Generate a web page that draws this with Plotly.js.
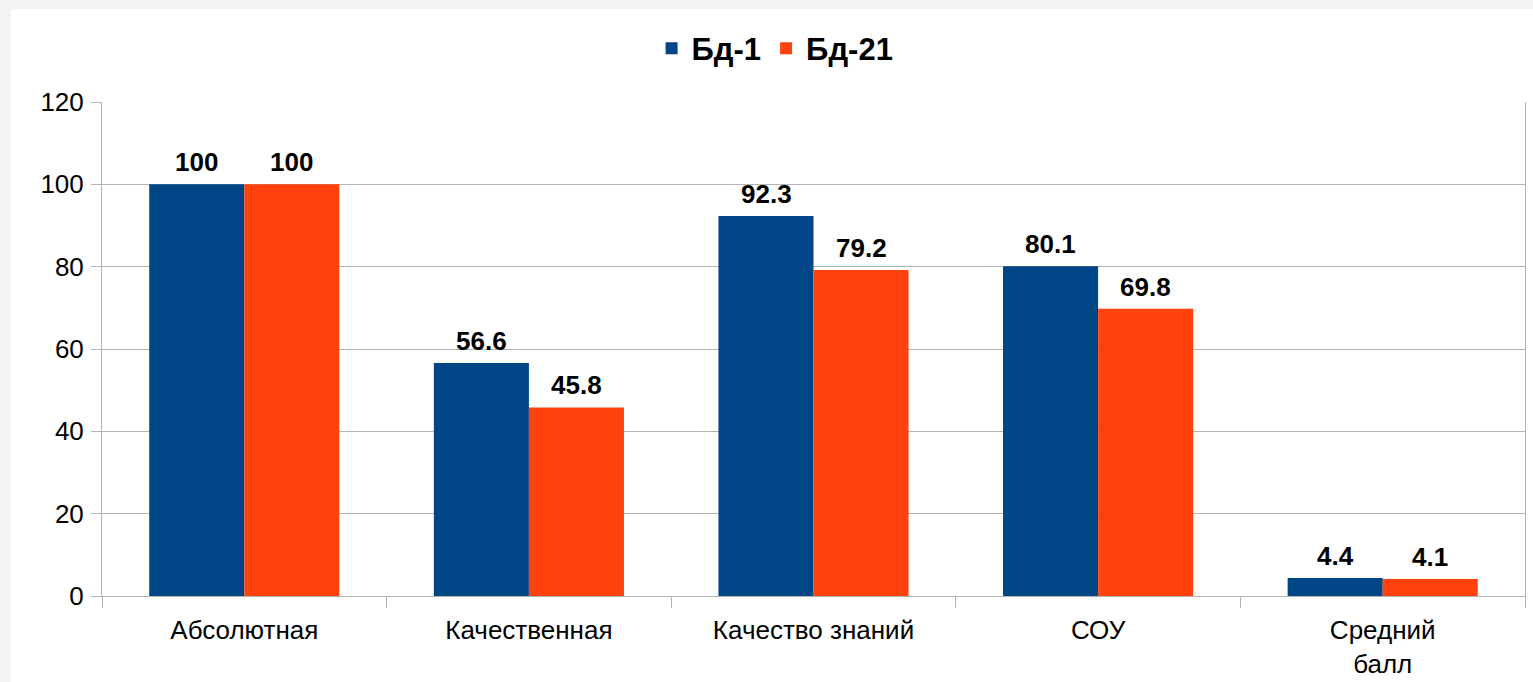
<!DOCTYPE html>
<html>
<head>
<meta charset="utf-8">
<script src="https://cdn.plot.ly/plotly-3.0.1.min.js"></script>
<style>html,body{margin:0;padding:0;background:#f3f3f3;}#chart{width:1533px;height:682px;}</style>
</head>
<body>
<div id="chart"></div>
<script>
const categories = ["Абсолютная", "Качественная", "Качество знаний", "СОУ", "Средний<br>балл"];
const seriesNames = ["Бд-1", "Бд-21"];
const bd1 = [100, 56.6, 92.3, 80.1, 4.4];
const bd21 = [100, 45.8, 79.2, 69.8, 4.1];
const yTicks = [0, 20, 40, 60, 80, 100, 120];

const colors = ["#004586", "#ff420e"];
const FONT = "Liberation Sans, Arial, sans-serif";

const traces = [bd1, bd21].map((vals, i) => ({
  type: "bar",
  name: seriesNames[i],
  x: categories,
  y: vals,
  marker: { color: colors[i] },
  hoverinfo: "skip"
}));

const annotations = [];
[bd1, bd21].forEach((vals, i) => {
  vals.forEach((v, j) => {
    annotations.push({
      x: categories[j], y: v, xref: "x", yref: "y",
      text: "<b>" + v + "</b>", showarrow: false,
      xshift: i === 0 ? -47.5 : 47.5, yshift: 5, yanchor: "bottom",
      font: { family: FONT, size: 26, color: "#000" }
    });
  });
});

const layout = {
  width: 1533, height: 682,
  margin: { l: 102, r: 8, t: 102, b: 86 },
  paper_bgcolor: "#f3f3f3",
  plot_bgcolor: "#ffffff",
  barmode: "group",
  bargap: 0.332,
  bargroupgap: 0,
  showlegend: true,
  legend: {
    orientation: "h", x: 0.473, xanchor: "center", y: 1.108, yanchor: "middle",
    font: { family: FONT, size: 31, color: "#000", weight: "bold" },
    itemclick: false, bgcolor: "rgba(0,0,0,0)"
  },
  xaxis: {
    type: "category",
    tickson: "boundaries",
    ticks: "outside", ticklen: 11, tickcolor: "#b3b3b3", tickwidth: 1,
    showline: true, linecolor: "#b3b3b3", linewidth: 1,
    showgrid: false,
    ticklabelstandoff: 11,
    tickfont: { family: FONT, size: 26, color: "#000" }
  },
  yaxis: {
    range: [0, 120],
    tickvals: yTicks,
    ticks: "outside", ticklen: 10, tickcolor: "#b3b3b3",
    showline: true, linecolor: "#b3b3b3", linewidth: 1, mirror: true,
    showgrid: true, gridcolor: "#b3b3b3", gridwidth: 1,
    zeroline: false,
    ticklabelstandoff: 2,
    tickfont: { family: FONT, size: 26, color: "#000" }
  },
  shapes: [{
    type: "rect", xref: "paper", yref: "paper", layer: "below",
    x0: -0.064, x1: 1.01, y0: -0.2, y1: 1.188,
    fillcolor: "#ffffff", line: { width: 0 }
  }],
  annotations: annotations
};

Plotly.newPlot("chart", traces, layout, { staticPlot: true, displayModeBar: false });
</script>
</body>
</html>
